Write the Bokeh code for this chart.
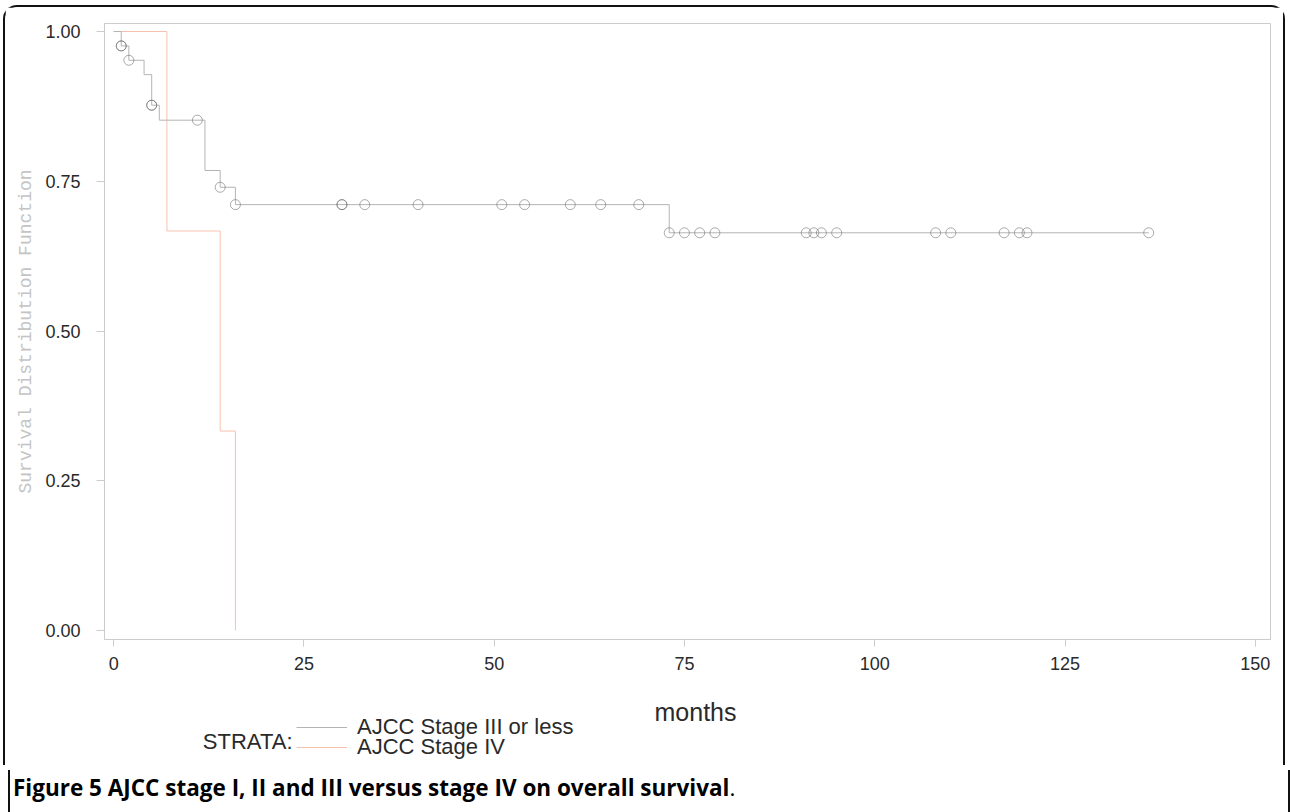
import numpy as np
from bokeh.plotting import figure
from bokeh.layouts import column
from bokeh.models import (Range1d, FixedTicker, PrintfTickFormatter, Legend,
                          LegendItem, Label, ColumnDataSource, Div)
from bokeh.embed import file_html
from bokeh.resources import INLINE

# ---------------- data ----------------
stage3_label = "AJCC Stage III or less"
stage3_times = [0, 1, 2, 4, 5, 6, 12, 14, 16, 73, 136]
stage3_surv = [1.0, 0.976, 0.952, 0.928, 0.877, 0.852, 0.768, 0.740, 0.711, 0.664, 0.664]
stage3_censor = [1, 1, 2, 5, 5, 11, 14, 16, 30, 30, 33, 40, 51, 54, 60, 64, 69,
                 73, 75, 77, 79, 91, 92, 93, 95, 108, 110, 117, 119, 120, 136]

stage4_label = "AJCC Stage IV"
stage4_times = [0, 7, 14, 16]
stage4_surv = [1.0, 0.667, 0.333, 0.0]

x_ticks = [0, 25, 50, 75, 100, 125, 150]
y_ticks = [0.0, 0.25, 0.5, 0.75, 1.0]

x_label = "months"
y_label = "Survival Distribution Function"
strata_title = "STRATA:"
caption_bold = "Figure 5 AJCC stage I, II and III versus stage IV on overall survival"
caption_end = "."

# ---------------- style ----------------
GRAY = "#b4b4b4"
RED = "#f6c2ae"
AXIS = "#cccccc"
TXT = "#2a2a2a"
W = 1282
H_MAIN, H_BOT, H_CAP = 685, 75, 45
BORDER = "2px solid #111111"

# ================= main plot =================
p = figure(width=W, height=H_MAIN, output_backend="svg", toolbar_location=None,
           title=None,
           x_range=Range1d(-1.2, 152), y_range=Range1d(-0.015, 1.0134),
           min_border_left=99, min_border_right=17, min_border_top=16,
           min_border_bottom=53)
p.styles = {"border-top": BORDER, "border-left": BORDER, "border-right": BORDER,
            "border-bottom": "0", "border-radius": "14px 14px 0 0"}
p.grid.visible = False
p.outline_line_color = AXIS
p.outline_line_width = 1
p.background_fill_color = "white"
p.border_fill_color = "white"

xa = p.xaxis[0]
xa.ticker = FixedTicker(ticks=x_ticks)
xa.minor_tick_line_color = None
xa.major_tick_in = 0
xa.major_tick_out = 7
xa.major_tick_line_color = AXIS
xa.axis_line_color = AXIS
xa.major_label_standoff = 10
xa.major_label_text_font = "Liberation Sans"
xa.major_label_text_font_size = "18px"
xa.major_label_text_color = TXT

ya = p.yaxis[0]
ya.ticker = FixedTicker(ticks=y_ticks)
ya.formatter = PrintfTickFormatter(format="%.2f")
ya.minor_tick_line_color = None
ya.major_tick_in = 0
ya.major_tick_out = 8
ya.major_tick_line_color = AXIS
ya.axis_line_color = AXIS
ya.major_label_standoff = 16
ya.major_label_text_font = "Liberation Sans"
ya.major_label_text_font_size = "18px"
ya.major_label_text_color = TXT
ya.axis_label = y_label
ya.axis_label_standoff = 6
ya.axis_label_text_font = "Liberation Mono"
ya.axis_label_text_font_size = "18px"
ya.axis_label_text_font_style = "normal"
ya.axis_label_text_color = "#c4c4c4"

r4 = p.step(stage4_times, stage4_surv, mode="after", line_color=RED, line_width=1)
r3 = p.step(stage3_times, stage3_surv, mode="after", line_color=GRAY, line_width=1)

idx = np.searchsorted(np.array(stage3_times), np.array(stage3_censor), side="right") - 1
cens_y = np.array(stage3_surv)[idx]
src = ColumnDataSource(dict(x=stage3_censor, y=cens_y))
p.scatter("x", "y", source=src, marker="circle", size=10, fill_color=None,
          line_color="#666666", line_alpha=0.55, line_width=1)

# ================= strip: axis title and legend =================
q = figure(width=W, height=H_BOT, output_backend="svg", toolbar_location=None,
           title=None, x_axis_location=None, y_axis_location=None,
           x_range=Range1d(0, 1), y_range=Range1d(0, 1),
           min_border_left=0, min_border_right=0, min_border_top=0,
           min_border_bottom=0)
q.styles = {"border-left": BORDER, "border-right": BORDER,
            "border-top": "0", "border-bottom": "0"}
q.grid.visible = False
q.outline_line_color = None
q.background_fill_color = "white"
q.border_fill_color = "white"

# hidden copies of the curves: they only lend their line style to the legend keys
k3 = q.step(stage3_times, stage3_surv, mode="after", line_color=GRAY,
            line_width=1, visible=False)
k4 = q.step(stage4_times, stage4_surv, mode="after", line_color=RED,
            line_width=1, visible=False)

QL, QB = 104, 765  # page x of strip frame left (aligned with main frame), page y of bottom


def sx(px):
    return px - QL


def sy(py):
    return QB - py


def add_label(px, py, text, align, size, color=TXT, font="Liberation Sans",
              style="normal"):
    q.add_layout(Label(x=sx(px), y=sy(py), x_units="screen", y_units="screen",
                       text=text, text_align=align, text_baseline="middle",
                       text_font=font, text_font_size=size, text_font_style=style,
                       text_color=color))


leg_common = dict(border_line_color=None, background_fill_alpha=0, padding=0,
                  margin=0, spacing=0, glyph_width=51, glyph_height=20,
                  label_height=20, label_standoff=10, inactive_fill_alpha=0,
                  label_text_font="Liberation Sans", label_text_font_size="22px",
                  label_text_color=TXT)
q.add_layout(Legend(items=[LegendItem(label=stage3_label, renderers=[k3])],
                    location=(sx(296), sy(739.5)), **leg_common))
q.add_layout(Legend(items=[LegendItem(label=stage4_label, renderers=[k4])],
                    location=(sx(296), sy(760)), **leg_common))

add_label(695, 711, x_label, "center", "25px")
add_label(292, 741, strata_title, "right", "22px")

# ================= caption (full width, not tied to the plot frame) =================
cap = Div(text="<b>%s</b>%s" % (caption_bold, caption_end), width=W, height=H_CAP)
cap.styles = {"border-left": BORDER, "border-right": BORDER,
              "border-top": "0", "border-bottom": "0",
              "background-color": "white", "color": "#000000",
              "font-family": "'Open Sans', sans-serif", "font-size": "22.5px",
              "line-height": "30px", "padding-left": "3px", "padding-top": "3px",
              "white-space": "nowrap"}

layout = column(p, q, cap, spacing=0)
layout.styles = {"margin-left": "3px", "margin-top": "5px"}

open("out.html", "w").write(file_html(layout, INLINE))
